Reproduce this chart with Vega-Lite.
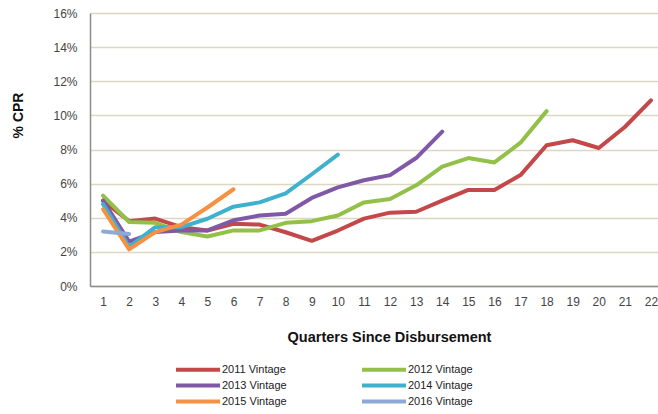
{
  "$schema": "https://vega.github.io/schema/vega-lite/v6.json",
  "autosize": "none",
  "width": 574,
  "height": 273,
  "padding": {"left": 90, "top": 13, "right": 0, "bottom": 128},
  "background": "white",
  "config": {
    "view": {"stroke": null},
    "font": "Liberation Sans"
  },
  "data": {
    "values": [
      {"q": 1, "v": "2011 Vintage", "cpr": 5.0}, {"q": 2, "v": "2011 Vintage", "cpr": 3.8}, {"q": 3, "v": "2011 Vintage", "cpr": 3.95}, {"q": 4, "v": "2011 Vintage", "cpr": 3.45}, {"q": 5, "v": "2011 Vintage", "cpr": 3.25}, {"q": 6, "v": "2011 Vintage", "cpr": 3.65}, {"q": 7, "v": "2011 Vintage", "cpr": 3.6}, {"q": 8, "v": "2011 Vintage", "cpr": 3.15}, {"q": 9, "v": "2011 Vintage", "cpr": 2.65}, {"q": 10, "v": "2011 Vintage", "cpr": 3.25}, {"q": 11, "v": "2011 Vintage", "cpr": 3.95}, {"q": 12, "v": "2011 Vintage", "cpr": 4.3}, {"q": 13, "v": "2011 Vintage", "cpr": 4.35}, {"q": 14, "v": "2011 Vintage", "cpr": 5.0}, {"q": 15, "v": "2011 Vintage", "cpr": 5.63}, {"q": 16, "v": "2011 Vintage", "cpr": 5.63}, {"q": 17, "v": "2011 Vintage", "cpr": 6.5}, {"q": 18, "v": "2011 Vintage", "cpr": 8.25}, {"q": 19, "v": "2011 Vintage", "cpr": 8.54}, {"q": 20, "v": "2011 Vintage", "cpr": 8.09}, {"q": 21, "v": "2011 Vintage", "cpr": 9.32}, {"q": 22, "v": "2011 Vintage", "cpr": 10.88},
      {"q": 1, "v": "2012 Vintage", "cpr": 5.3}, {"q": 2, "v": "2012 Vintage", "cpr": 3.75}, {"q": 3, "v": "2012 Vintage", "cpr": 3.7}, {"q": 4, "v": "2012 Vintage", "cpr": 3.16}, {"q": 5, "v": "2012 Vintage", "cpr": 2.9}, {"q": 6, "v": "2012 Vintage", "cpr": 3.26}, {"q": 7, "v": "2012 Vintage", "cpr": 3.26}, {"q": 8, "v": "2012 Vintage", "cpr": 3.7}, {"q": 9, "v": "2012 Vintage", "cpr": 3.8}, {"q": 10, "v": "2012 Vintage", "cpr": 4.13}, {"q": 11, "v": "2012 Vintage", "cpr": 4.9}, {"q": 12, "v": "2012 Vintage", "cpr": 5.1}, {"q": 13, "v": "2012 Vintage", "cpr": 5.9}, {"q": 14, "v": "2012 Vintage", "cpr": 7.0}, {"q": 15, "v": "2012 Vintage", "cpr": 7.5}, {"q": 16, "v": "2012 Vintage", "cpr": 7.24}, {"q": 17, "v": "2012 Vintage", "cpr": 8.4}, {"q": 18, "v": "2012 Vintage", "cpr": 10.25},
      {"q": 1, "v": "2013 Vintage", "cpr": 5.0}, {"q": 2, "v": "2013 Vintage", "cpr": 2.6}, {"q": 3, "v": "2013 Vintage", "cpr": 3.16}, {"q": 4, "v": "2013 Vintage", "cpr": 3.25}, {"q": 5, "v": "2013 Vintage", "cpr": 3.26}, {"q": 6, "v": "2013 Vintage", "cpr": 3.85}, {"q": 7, "v": "2013 Vintage", "cpr": 4.13}, {"q": 8, "v": "2013 Vintage", "cpr": 4.23}, {"q": 9, "v": "2013 Vintage", "cpr": 5.16}, {"q": 10, "v": "2013 Vintage", "cpr": 5.78}, {"q": 11, "v": "2013 Vintage", "cpr": 6.2}, {"q": 12, "v": "2013 Vintage", "cpr": 6.5}, {"q": 13, "v": "2013 Vintage", "cpr": 7.5}, {"q": 14, "v": "2013 Vintage", "cpr": 9.05},
      {"q": 1, "v": "2014 Vintage", "cpr": 4.8}, {"q": 2, "v": "2014 Vintage", "cpr": 2.3}, {"q": 3, "v": "2014 Vintage", "cpr": 3.45}, {"q": 4, "v": "2014 Vintage", "cpr": 3.45}, {"q": 5, "v": "2014 Vintage", "cpr": 3.94}, {"q": 6, "v": "2014 Vintage", "cpr": 4.65}, {"q": 7, "v": "2014 Vintage", "cpr": 4.9}, {"q": 8, "v": "2014 Vintage", "cpr": 5.43}, {"q": 9, "v": "2014 Vintage", "cpr": 6.55}, {"q": 10, "v": "2014 Vintage", "cpr": 7.7},
      {"q": 1, "v": "2015 Vintage", "cpr": 4.5}, {"q": 2, "v": "2015 Vintage", "cpr": 2.15}, {"q": 3, "v": "2015 Vintage", "cpr": 3.16}, {"q": 4, "v": "2015 Vintage", "cpr": 3.6}, {"q": 5, "v": "2015 Vintage", "cpr": 4.6}, {"q": 6, "v": "2015 Vintage", "cpr": 5.67},
      {"q": 1, "v": "2016 Vintage", "cpr": 3.2}, {"q": 2, "v": "2016 Vintage", "cpr": 3.05}
    ]
  },
  "mark": {"type": "line", "strokeWidth": 4, "strokeCap": "round", "strokeJoin": "round", "clip": false},
  "encoding": {
    "x": {
      "field": "q", "type": "quantitative",
      "scale": {"domain": [0.5, 22.5], "nice": false, "zero": false},
      "axis": {
        "values": [1,2,3,4,5,6,7,8,9,10,11,12,13,14,15,16,17,18,19,20,21,22],
        "grid": false, "ticks": false,
        "domainColor": "#8c8c8c", "domainWidth": 1.5,
        "labelFontSize": 12, "labelColor": "#444", "labelPadding": 10,
        "title": "Quarters Since Disbursement",
        "titleFontSize": 14.5, "titleFontWeight": "bold", "titleColor": "#111",
        "titleX": 299, "titleY": 51, "titleBaseline": "middle"
      }
    },
    "y": {
      "field": "cpr", "type": "quantitative",
      "scale": {"domain": [0, 16], "nice": false},
      "axis": {
        "values": [0,2,4,6,8,10,12,14,16],
        "labelExpr": "datum.value + '%'",
        "grid": true, "gridColor": "#dcd7c0", "gridWidth": 1.5,
        "ticks": false,
        "domainColor": "#8c8c8c", "domainWidth": 1.5,
        "labelFontSize": 12, "labelColor": "#444", "labelPadding": 13,
        "title": "% CPR",
        "titleFontSize": 14, "titleFontWeight": "bold", "titleColor": "#111",
        "titleX": -72, "titleY": 102, "titleAngle": -90, "titleBaseline": "middle", "titleAlign": "center"
      }
    },
    "color": {
      "field": "v", "type": "nominal",
      "scale": {
        "domain": ["2011 Vintage", "2013 Vintage", "2015 Vintage", "2012 Vintage", "2014 Vintage", "2016 Vintage"],
        "range": ["#c4474a", "#7f59a8", "#f79142", "#92c048", "#3eb1cf", "#8ea9d8"]
      },
      "legend": {
        "title": null,
        "orient": "none", "legendX": 89, "legendY": 349,
        "columns": 2, "columnPadding": 67, "rowPadding": -1,
        "symbolType": "M-2,0H6.4", "symbolSize": 110, "symbolStrokeWidth": 4, "symbolFillColor": "transparent",
        "labelFontSize": 11, "labelColor": "#222", "labelOffset": 28
      }
    }
  }
}
